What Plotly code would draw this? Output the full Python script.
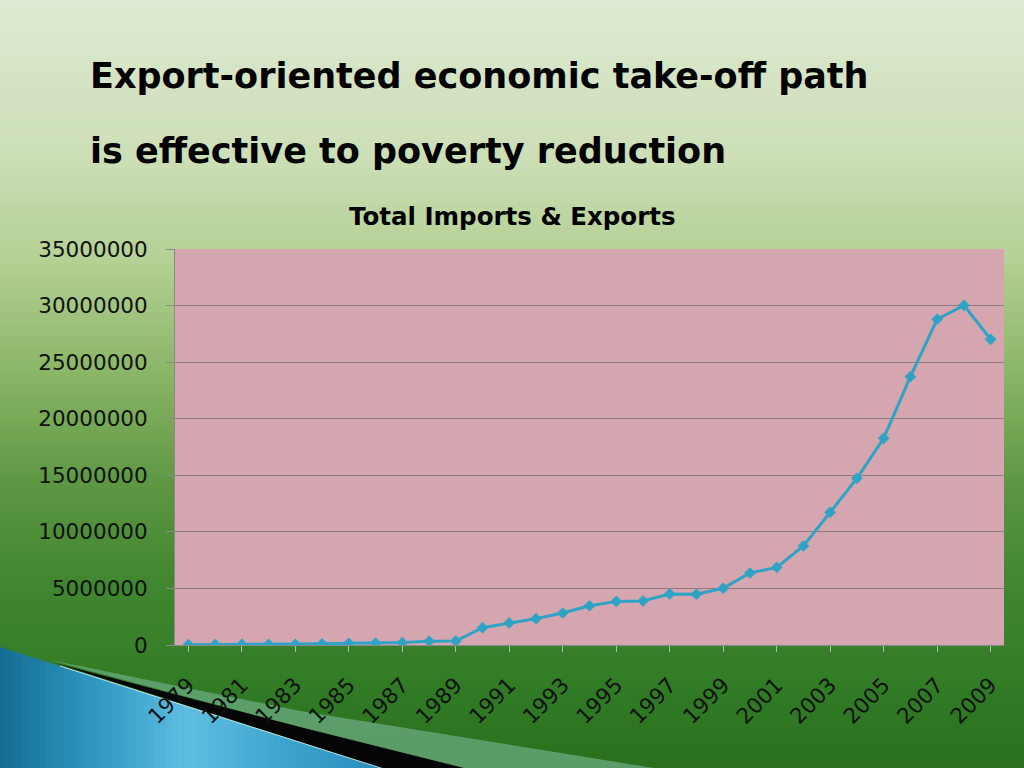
import plotly.graph_objects as go

# ---- data ----
years = [str(y) for y in range(1979, 2010)]
values = [30000, 40000, 50000, 50000, 60000, 100000, 150000, 170000, 220000,
          330000, 350000, 1530000, 1950000, 2330000, 2830000, 3470000, 3850000,
          3890000, 4510000, 4490000, 5010000, 6360000, 6860000, 8750000,
          11730000, 14730000, 18270000, 23720000, 28790000, 30020000, 27020000]
tick_years = years[::2]
y_ticks = list(range(0, 35000001, 5000000))
y_tick_text = [str(v) for v in y_ticks]

title_line1 = "Export-oriented economic take-off path"
title_line2 = "is effective to poverty reduction"
chart_title = "Total Imports & Exports"

# ---- geometry helpers ----
W, H = 1024, 768
L, R, T, B = 175, 20, 249, 123
PW = W - L - R
PH = H - T - B


def px(x):
    return (x - L) / PW


def py(y):
    return (H - B - y) / PH


def lerp(stops, v):
    for (v0, c0), (v1, c1) in zip(stops, stops[1:]):
        if v0 <= v <= v1:
            t = (v - v0) / (v1 - v0)
            return "rgb(%d,%d,%d)" % tuple(round(a + (b - a) * t) for a, b in zip(c0, c1))
    return "rgb(%d,%d,%d)" % (stops[-1][1] if v > stops[-1][0] else stops[0][1])


bg_stops = [(0, (222, 234, 210)), (150, (205, 223, 184)), (260, (180, 208, 148)),
            (380, (135, 180, 100)), (480, (95, 152, 68)), (580, (66, 135, 48)),
            (680, (50, 124, 38)), (768, (42, 112, 30))]

shapes = []
step = 6
for yy in range(0, H, step):
    shapes.append(dict(type="rect", xref="paper", yref="paper", layer="below",
                       x0=px(-2), x1=px(W + 2), y0=py(yy + step + 1), y1=py(yy),
                       line=dict(width=0), fillcolor=lerp(bg_stops, yy + step / 2)))

# plot area
shapes.append(dict(type="rect", xref="paper", yref="paper", layer="below",
                   x0=0, x1=1, y0=0, y1=1, line=dict(width=0), fillcolor="#d5a6af"))


def poly(points, color):
    d = "M " + " L ".join("%f,%f" % (px(x), py(y)) for x, y in points) + " Z"
    return dict(type="path", xref="paper", yref="paper", layer="below", path=d,
                line=dict(width=0), fillcolor=color)


# decorative wedges bottom-left
shapes.append(poly([(50, 660), (300, 711), (660, 769), (455, 769)], "rgba(100,165,118,0.85)"))
shapes.append(poly([(55, 663), (300, 727), (468, 769), (384, 769)], "#050505"))

blue_stops = [(0, (20, 108, 145)), (90, (45, 150, 192)), (190, (95, 190, 226)),
              (280, (62, 165, 208)), (390, (40, 140, 185))]


def edge(x):
    return 647 + 0.3177 * x


bstep = 6
for xx in range(-2, 384, bstep):
    x1 = min(xx + bstep + 1, 385)
    shapes.append(poly([(xx, edge(xx)), (x1, edge(x1)), (x1, 769), (xx, 769)],
                       lerp(blue_stops, xx + bstep / 2)))
shapes.append(dict(type="line", xref="paper", yref="paper", layer="below",
                   x0=px(60), y0=py(edge(60)), x1=px(384), y1=py(edge(384)),
                   line=dict(color="rgba(215,238,250,0.85)", width=1)))

fig = go.Figure()
fig.add_trace(go.Scatter(
    x=years, y=values, mode="lines+markers",
    line=dict(color="#2fa3c6", width=3),
    marker=dict(symbol="diamond", size=9, color="#2fa3c6"),
    showlegend=False, hoverinfo="skip"))

ann_font = "DejaVu Sans"
annotations = [
    dict(text="<b>%s</b>" % title_line1, x=px(88), y=py(76), xref="paper", yref="paper",
         xanchor="left", yanchor="middle", showarrow=False,
         font=dict(family=ann_font, size=35, color="#000000")),
    dict(text="<b>%s</b>" % title_line2, x=px(88), y=py(150.5), xref="paper", yref="paper",
         xanchor="left", yanchor="middle", showarrow=False,
         font=dict(family=ann_font, size=35, color="#000000")),
    dict(text="<b>%s</b>" % chart_title, x=px(512), y=py(216.5), xref="paper", yref="paper",
         xanchor="center", yanchor="middle", showarrow=False,
         font=dict(family=ann_font, size=24.5, color="#000000")),
]

fig.update_layout(
    width=W, height=H,
    margin=dict(l=L, r=R, t=T, b=B),
    paper_bgcolor="#2a7020", plot_bgcolor="#d5a6af",
    shapes=shapes, annotations=annotations,
    font=dict(family="DejaVu Sans", color="#111111"),
    xaxis=dict(type="category", range=[-0.5, 30.5], tickmode="array",
               tickvals=tick_years, ticktext=tick_years, tickangle=-45,
               tickfont=dict(size=21.5),
               showgrid=False, showline=True, linecolor="#8a8a8a", linewidth=1,
               ticks="outside", ticklen=6, tickcolor="#bbbbbb", zeroline=False,
               ticklabelstandoff=12),
    yaxis=dict(range=[0, 35000000], tickmode="array", tickvals=y_ticks,
               ticktext=y_tick_text, tickfont=dict(size=21.5),
               showgrid=True, gridcolor="#8c7c80", gridwidth=1,
               showline=True, linecolor="#8a8a8a", linewidth=1,
               ticks="outside", ticklen=8, tickcolor="#8a8a8a",
               zeroline=False, ticklabelstandoff=14),
)

fig.write_html("out.html", config={"displayModeBar": False},
               post_script="document.body.style.margin='0px';document.body.style.overflow='hidden';")
